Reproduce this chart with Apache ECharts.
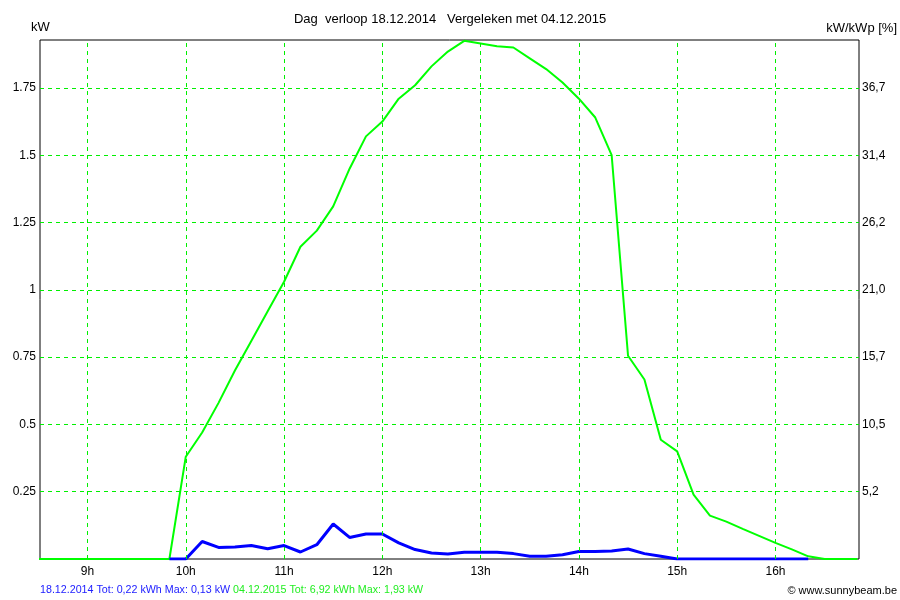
<!DOCTYPE html>
<html>
<head>
<meta charset="utf-8">
<script src="https://cdn.jsdelivr.net/npm/echarts@6/dist/echarts.min.js"></script>
<style>
  html, body { margin: 0; padding: 0; background: #fff; }
  #chart { width: 900px; height: 600px; }
</style>
</head>
<body>
<div id="chart"></div>
<script>
// tijd in minuten sinds middernacht, stap van 10 minuten
var greenStart = 510;   // 8:30
var blueStart = 590;    // 9:50
var step = 10;

// 04.12.2015 (vergelijking), kW
var greenValues = [
  0, 0, 0, 0, 0, 0, 0, 0, 0,
  0.38, 0.47, 0.58, 0.70, 0.81, 0.92,
  1.03, 1.16, 1.22, 1.31, 1.45, 1.57,
  1.625, 1.71, 1.76, 1.83, 1.885, 1.925,
  1.915, 1.905, 1.90, 1.86, 1.82, 1.77,
  1.71, 1.64, 1.50, 0.755, 0.667, 0.443,
  0.40, 0.239, 0.161, 0.139, 0.112, 0.086,
  0.06, 0.036, 0.01, 0, 0, 0
];
// 18.12.2014, kW
var blueValues = [
  0,
  0, 0.065, 0.043, 0.045, 0.05, 0.038,
  0.05, 0.026, 0.053, 0.13, 0.08, 0.093,
  0.093, 0.06, 0.035, 0.022, 0.019, 0.025,
  0.025, 0.025, 0.02, 0.01, 0.01, 0.016,
  0.028, 0.028, 0.03, 0.037, 0.02, 0.01,
  0, 0, 0, 0, 0, 0,
  0, 0, 0
];

var hourTicks = [540, 600, 660, 720, 780, 840, 900, 960];
var hourLabels = ['9h', '10h', '11h', '12h', '13h', '14h', '15h', '16h'];
var kwTicks = [0.25, 0.5, 0.75, 1, 1.25, 1.5, 1.75];
var kwLabels = ['0.25', '0.5', '0.75', '1', '1.25', '1.5', '1.75'];
var pctLabels = ['5,2', '10,5', '15,7', '21,0', '26,2', '31,4', '36,7'];

function toPairs(start, values) {
  return values.map(function (v, i) { return [start + i * step, v]; });
}

var font = 'Liberation Sans, Arial, sans-serif';
var gridGreen = '#00f000';

// rasterlijnen als markLine, zodat ze precies op de uren / kW-waarden liggen
var gridLines = hourTicks.map(function (v) { return { xAxis: v }; })
  .concat(kwTicks.map(function (v) { return { yAxis: v }; }));

var chart = echarts.init(document.getElementById('chart'));

chart.setOption({
  animation: false,
  backgroundColor: '#fff',
  textStyle: { fontFamily: font },
  grid: {
    left: 40, right: 41, top: 40, bottom: 41,
    show: true, borderColor: '#000', borderWidth: 1,
    backgroundColor: 'transparent'
  },
  xAxis: {
    type: 'value',
    min: 511, max: 1011,
    axisLine: { show: false },
    axisTick: { show: false, customValues: hourTicks },
    axisLabel: {
      customValues: hourTicks,
      color: '#000', fontSize: 12, fontFamily: font, margin: 7,
      formatter: function (v) { return hourLabels[hourTicks.indexOf(v)] || ''; }
    },
    splitLine: { show: false }
  },
  yAxis: [{
    type: 'value',
    min: 0, max: 1.928,
    axisLine: { show: false },
    axisTick: { show: false, customValues: kwTicks },
    axisLabel: {
      customValues: kwTicks,
      color: '#000', fontSize: 12, fontFamily: font, margin: 4,
      formatter: function (v) {
        var i = Math.round(v / 0.25) - 1;
        return kwLabels[i] || '';
      }
    },
    splitLine: { show: false }
  }, {
    type: 'value',
    position: 'right',
    min: 0, max: 1.928,
    axisLine: { show: false },
    axisTick: { show: false, customValues: kwTicks },
    axisLabel: {
      customValues: kwTicks,
      color: '#000', fontSize: 12, fontFamily: font, margin: 3,
      formatter: function (v) {
        var i = Math.round(v / 0.25) - 1;
        return pctLabels[i] || '';
      }
    },
    splitLine: { show: false }
  }],
  graphic: [
    { type: 'text', left: 'center', top: 13,
      style: { text: 'Dag  verloop 18.12.2014   Vergeleken met 04.12.2015', fill: '#000', font: '13px ' + font } },
    { type: 'text', left: 31, top: 21,
      style: { text: 'kW', fill: '#000', font: '13px ' + font } },
    { type: 'text', right: 3, top: 22,
      style: { text: 'kW/kWp [%]', fill: '#000', font: '13px ' + font } },
    { type: 'text', left: 40, top: 585,
      style: {
        text: '{b|18.12.2014 Tot: 0,22 kWh Max: 0,13 kW} {g|04.12.2015 Tot: 6,92 kWh Max: 1,93 kW}',
        font: '10.7px ' + font,
        rich: {
          b: { fill: '#2020ff', font: '10.7px ' + font },
          g: { fill: '#22ee22', font: '10.7px ' + font }
        }
      } },
    { type: 'text', right: 3, top: 585,
      style: { text: '\u00a9 www.sunnybeam.be', fill: '#000', font: '11px ' + font } }
  ],
  series: [{
    name: 'raster',
    type: 'line',
    data: [],
    z: 1,
    markLine: {
      silent: true,
      symbol: ['none', 'none'],
      label: { show: false },
      lineStyle: { color: gridGreen, type: [4, 4], width: 1 },
      emphasis: { disabled: true },
      data: gridLines
    }
  }, {
    name: '04.12.2015',
    type: 'line',
    showSymbol: false,
    data: toPairs(greenStart, greenValues),
    lineStyle: { color: '#00ff00', width: 2 },
    itemStyle: { color: '#00ff00' },
    z: 2
  }, {
    name: '18.12.2014',
    type: 'line',
    showSymbol: false,
    data: toPairs(blueStart, blueValues),
    lineStyle: { color: '#0000ff', width: 3 },
    itemStyle: { color: '#0000ff' },
    z: 3
  }]
});
</script>
</body>
</html>
